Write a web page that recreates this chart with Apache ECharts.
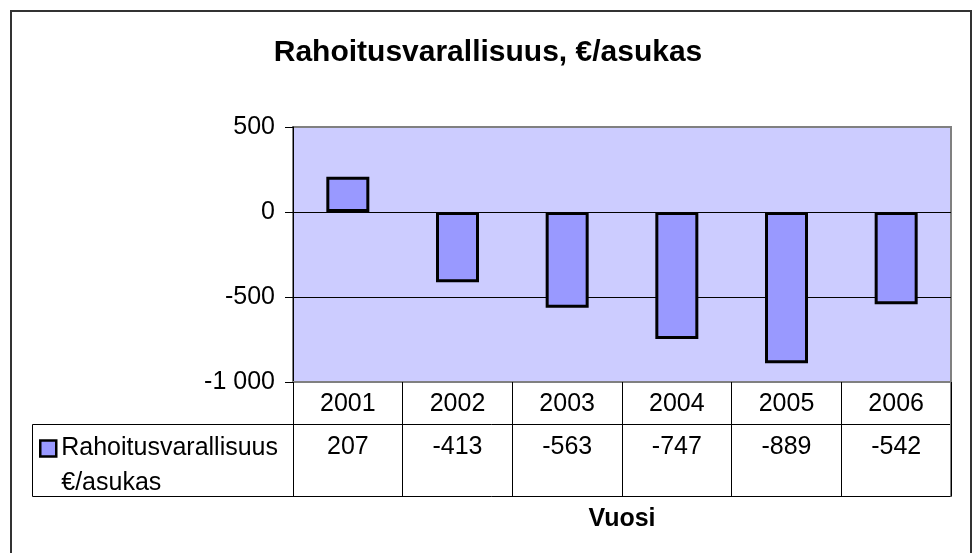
<!DOCTYPE html>
<html>
<head>
<meta charset="utf-8">
<script src="https://cdn.jsdelivr.net/npm/echarts@6/dist/echarts.min.js"></script>
<style>
  html, body { margin: 0; padding: 0; background: #ffffff; }
  #chart_container { width: 976px; height: 553px; }
</style>
</head>
<body>
<div id="chart_container"></div>
<script>
// data
const years = ['2001', '2002', '2003', '2004', '2005', '2006'];
const values = [207, -413, -563, -747, -889, -542];
const seriesName = 'Rahoitusvarallisuus €/asukas';
const yMin = -1000, yMax = 500, yStep = 500;

// plot area in pixels
const plot = { left: 293, right: 951, top: 127, bottom: 382 };
const table = { left: 32.5, rowTop: 424.5, bottom: 496.5 };
const font = '"Liberation Sans", Arial, sans-serif';

function spaced(v) {
    let s = Math.abs(v).toString().replace(/\B(?=(\d{3})+(?!\d))/g, ' ');
    return (v < 0 ? '-' : '') + s;
}

document.addEventListener("DOMContentLoaded", function () {
    let chart = echarts.init(document.getElementById('chart_container'));

    let option = {
        backgroundColor: '#ffffff',
        animation: false,
        textStyle: { fontFamily: font },
        title: {
            text: 'Rahoitusvarallisuus, €/asukas',
            left: 'center',
            top: 33,
            textStyle: { fontFamily: font, fontSize: 30, fontWeight: 'bold', color: '#000' }
        },
        grid: {
            left: plot.left,
            right: 976 - plot.right,
            top: plot.top,
            bottom: 553 - plot.bottom,
            show: true,
            backgroundColor: '#CCCCFF',
            borderColor: '#808080',
            borderWidth: 2
        },
        legend: {
            data: [seriesName],
            left: 39,
            top: 396,
            padding: 0,
            itemWidth: 16,
            itemHeight: 16,
            itemGap: 4,
            icon: 'rect',
            formatter: function () { return '\nRahoitusvarallisuus\n€/asukas'; },
            textStyle: { fontFamily: font, fontSize: 25, color: '#000', lineHeight: 35 },
            itemStyle: { borderColor: '#000', borderWidth: 2.5 }
        },
        xAxis: [
            {
                type: 'category',
                data: years,
                position: 'bottom',
                axisLine: { show: true, onZero: false, lineStyle: { color: '#808080', width: 2 } },
                axisTick: { show: true, length: table.bottom - plot.bottom, interval: 0, lineStyle: { color: '#000', width: 1 } },
                axisLabel: { fontSize: 25, color: '#000', margin: 10, fontFamily: font }
            },
            {
                type: 'category',
                data: values.map(String),
                position: 'bottom',
                offset: table.rowTop - plot.bottom,
                axisLine: { show: false, onZero: false },
                axisTick: { show: false },
                axisLabel: { fontSize: 25, color: '#000', margin: 10, fontFamily: font },
                name: 'Vuosi',
                nameLocation: 'middle',
                nameGap: 82,
                nameTextStyle: { fontSize: 25, fontWeight: 'bold', color: '#000', fontFamily: font }
            }
        ],
        yAxis: {
            type: 'value',
            min: yMin,
            max: yMax,
            interval: yStep,
            axisLine: { show: true, lineStyle: { color: '#000', width: 1 } },
            axisTick: { show: true, length: 8, lineStyle: { color: '#000' } },
            axisLabel: { fontSize: 25, color: '#000', margin: 18, fontFamily: font, formatter: spaced },
            splitLine: { show: true, lineStyle: { color: ['#808080', '#000', '#000', '#808080'], width: 1 } }
        },
        series: [
            {
                name: seriesName,
                type: 'bar',
                data: values,
                xAxisIndex: 0,
                barWidth: 43,
                itemStyle: { color: '#9999FF', borderColor: '#000', borderWidth: 3 }
            }
        ],
        graphic: [
            // outer frame
            { type: 'rect', shape: { x: 11, y: 11, width: 960, height: 560 }, style: { fill: 'none', stroke: '#333', lineWidth: 2 }, z: -1 },
            // data table frame
            { type: 'line', shape: { x1: table.left, y1: table.rowTop, x2: plot.right, y2: table.rowTop }, style: { stroke: '#000', lineWidth: 1 } },
            { type: 'line', shape: { x1: table.left, y1: table.bottom, x2: plot.right, y2: table.bottom }, style: { stroke: '#000', lineWidth: 1 } },
            { type: 'line', shape: { x1: table.left, y1: table.rowTop, x2: table.left, y2: table.bottom }, style: { stroke: '#000', lineWidth: 1 } },
            { type: 'line', shape: { x1: plot.right, y1: plot.bottom, x2: plot.right, y2: table.bottom }, style: { stroke: '#808080', lineWidth: 2 } }
        ]
    };

    chart.setOption(option);
});
</script>
</body>
</html>
